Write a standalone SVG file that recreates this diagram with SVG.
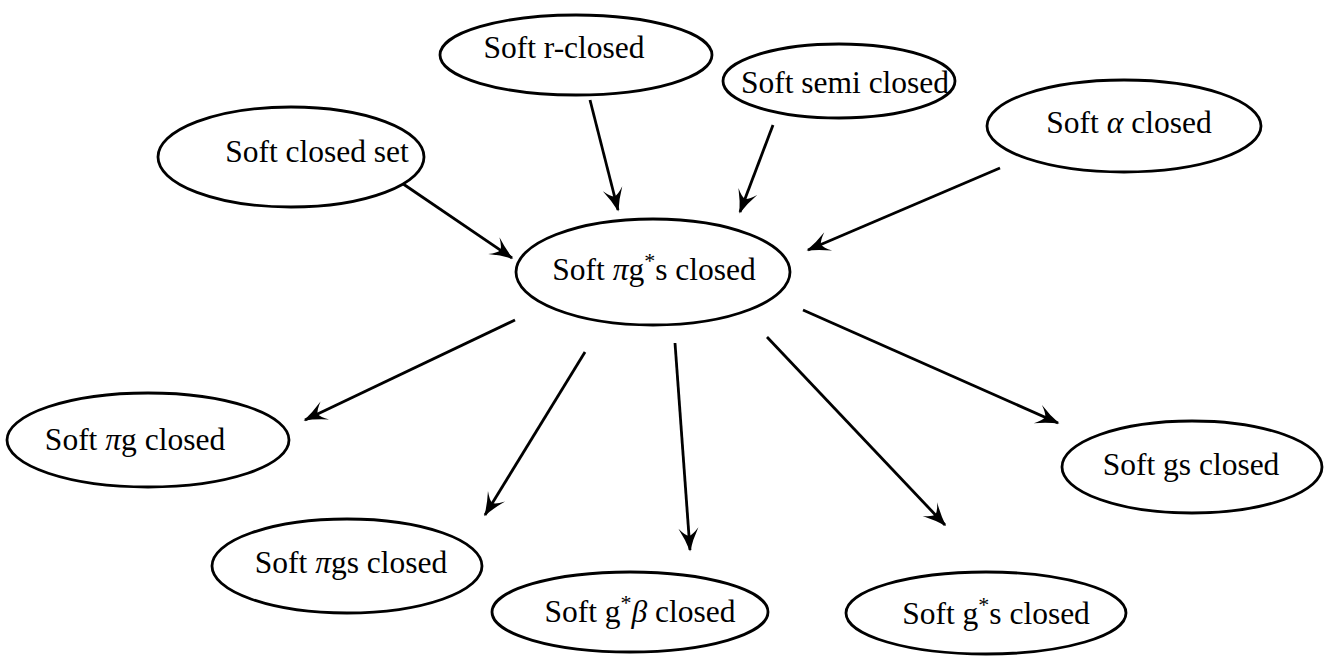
<svg xmlns="http://www.w3.org/2000/svg" width="1331" height="659" viewBox="0 0 1331 659">
<style>
.n ellipse{fill:#fff;stroke:#000;stroke-width:2.8}
.n text{font-family:"Liberation Serif","Times New Roman",serif;font-size:31.5px;fill:#000;text-anchor:middle}
.g{font-style:italic}
.s{font-size:22px}
#edges line{stroke:#000;stroke-width:2.8;marker-end:url(#ah)}
</style>
<defs>
<marker id="ah" markerUnits="userSpaceOnUse" markerWidth="28" markerHeight="24" viewBox="-24 -12 26 24" refX="0" refY="0" orient="auto">
<path d="M1.5,0 Q-10,-3.5 -22,-10 Q-15,-4 -14,0 Q-15,4 -22,10 Q-10,3.5 1.5,0 Z" fill="#000"/>
</marker>
</defs>
<g id="edges">
<line x1="390" y1="175" x2="512" y2="258"/>
<line x1="590" y1="100" x2="618" y2="210"/>
<line x1="773" y1="125" x2="740" y2="212"/>
<line x1="1000" y1="168" x2="808" y2="250"/>
<line x1="515" y1="320" x2="305" y2="420"/>
<line x1="585" y1="352" x2="485" y2="515"/>
<line x1="675" y1="343" x2="690" y2="550"/>
<line x1="767" y1="337" x2="945" y2="525"/>
<line x1="803" y1="310" x2="1058" y2="423"/>
</g>
<g id="closedset" class="n"><ellipse cx="291" cy="157" rx="133" ry="50"/><text x="317" y="162">Soft closed set</text></g>
<g id="rclosed" class="n"><ellipse cx="576" cy="55" rx="136" ry="40"/><text x="564" y="58">Soft r-closed</text></g>
<g id="semiclosed" class="n"><ellipse cx="839" cy="81" rx="116" ry="37"/><text x="845" y="93">Soft semi closed</text></g>
<g id="alphaclosed" class="n"><ellipse cx="1124" cy="126" rx="137" ry="46"/><text x="1129" y="133">Soft <tspan class="g">α</tspan> closed</text></g>
<g id="center" class="n"><ellipse cx="653" cy="272" rx="137" ry="53"/><text x="654" y="280">Soft <tspan class="g">π</tspan>g<tspan class="s" dy="-12">*</tspan><tspan dy="12">s closed</tspan></text></g>
<g id="pig" class="n"><ellipse cx="148" cy="440" rx="141" ry="47"/><text x="135" y="450">Soft <tspan class="g">π</tspan>g closed</text></g>
<g id="pigs" class="n"><ellipse cx="347" cy="566" rx="135" ry="47"/><text x="351" y="573">Soft <tspan class="g">π</tspan>gs closed</text></g>
<g id="gbeta" class="n"><ellipse cx="630" cy="612" rx="138" ry="40"/><text x="640" y="622">Soft g<tspan class="s" dy="-12">*</tspan><tspan class="g" dy="12">β</tspan> closed</text></g>
<g id="gstar" class="n"><ellipse cx="986" cy="613" rx="140" ry="41"/><text x="996" y="624">Soft g<tspan class="s" dy="-12">*</tspan><tspan dy="12">s closed</tspan></text></g>
<g id="gs" class="n"><ellipse cx="1192" cy="467" rx="130" ry="46"/><text x="1191" y="475">Soft gs closed</text></g>
</svg>
